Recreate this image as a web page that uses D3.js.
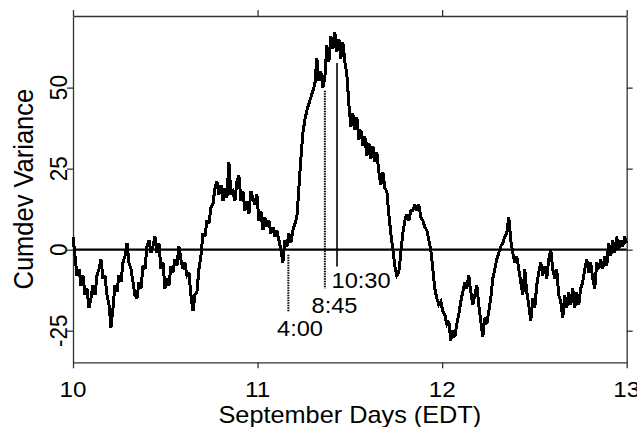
<!DOCTYPE html>
<html>
<head>
<meta charset="utf-8">
<script src="https://cdn.jsdelivr.net/npm/d3@7"></script>
<style>
  html, body { margin: 0; padding: 0; background: #fff; }
  svg { display: block; }
  text { font-family: "Liberation Sans", Arial, Helvetica, sans-serif; fill: #000; }
</style>
</head>
<body>
<div id="chart"></div>
<script>
// ---- data ----
const startDay = 10;
const endDay = 13;
const cumdev = [
  4, -2, -8, -6, -11, -8, -14, -12, -18, -15,
  -11, -14, -8, -6, -3, -9, -8, -14, -17, -24,
  -18, -11, -13, -8, -10, -4, -2, 2, -4, -6,
  -10, -14, -15, -10, -12, -5, -6, 1, 3, -1,
  1, 4, -1, 2, -6, -4, -12, -9, -11, -5,
  -7, -3, -5, 1, -3, -6, -4, -8, -7, -14,
  -19, -14, -13, -6, -2, 5, 4, 9, 8, 13,
  14, 19, 21, 17, 20, 15, 19, 16, 27, 17,
  18, 15, 21, 23, 15, 18, 12, 15, 11, 18,
  16, 14, 17, 9, 12, 6, 10, 7, 9, 5,
  7, 4, 6, 3, 0, -4, 3, 1, 5, 2,
  6, 8, 10, 19, 28, 36, 40, 43, 45, 47,
  49, 51, 59, 52, 55, 50, 53, 63, 58, 66,
  62, 67, 61, 65, 59, 64, 58, 54, 45, 38,
  42, 37, 41, 34, 37, 32, 35, 29, 33, 28,
  32, 27, 30, 24, 20, 24, 19, 18, 11, 5,
  0, -5, -8, -7, -1, 5, 9, 11, 9, 12,
  12, 14, 12, 14, 10, 9, 7, 6, 3, 0,
  -6, -12, -15, -17, -16, -19, -20, -23, -22, -28,
  -25, -27, -23, -20, -16, -13, -10, -12, -8, -13,
  -17, -14, -11, -17, -22, -27, -21, -23, -19, -15,
  -9, -6, -3, -1, 1, 2, 4, 5, 10, 3,
  -1, -4, -2, -6, -10, -14, -6, -13, -17, -22,
  -15, -18, -11, -7, -4, -8, -5, -9, -3, 0,
  -6, -9, -6, -14, -16, -21, -14, -18, -13, -17,
  -12, -18, -13, -17, -12, -10, -6, -3, -7, -4,
  -9, -12, -4, -6, -3, -6, -2, -5, 2, -2,
  3, -1, 4, 0, 3, 1, 4, 2
];
const xTicks = [10, 11, 12, 13];
const yTicks = [-25, 0, 25, 50];
const xDomain = [10, 13];
const yDomain = [-34.75, 72.1];

const eventLabels = ["4:00", "8:45", "10:30"];
const eventDays = [11.1667, 11.3646, 11.4305];
const eventTop = [-1.6, 49, 57.6];
const eventBottom = [-19, -12, -5.2];

const xTitle = "September Days (EDT)";
const yTitle = "Cumdev Variance";

// ---- layout ----
const W = 637, H = 427;
const margin = { left: 73, right: 10.3, top: 16, bottom: 64.7 };
const stretch = 1.1;

const svg = d3.select("#chart").append("svg")
  .attr("width", W).attr("height", H);
svg.append("rect").attr("width", W).attr("height", H).attr("fill", "#fff");

const x = d3.scaleLinear().domain(xDomain).range([margin.left, W - margin.right]);
const y = d3.scaleLinear().domain(yDomain).range([H - margin.bottom, margin.top]);

const step = (endDay - startDay) / (cumdev.length - 1);
const series = cumdev.map((v, i) => ({ day: startDay + i * step, v }));

// axes (frame with outward ticks on all four sides)
const axisColor = "#333";
function styleAxis(g) {
  g.selectAll("path.domain").attr("stroke", axisColor).attr("stroke-width", 1.3);
  g.selectAll(".tick line").attr("stroke", axisColor).attr("stroke-width", 1.3);
  g.selectAll(".tick text").remove();
}
svg.append("g").attr("transform", `translate(0,${y.range()[0]})`)
  .call(d3.axisBottom(x).tickValues(xTicks).tickSizeInner(6).tickSizeOuter(0)).call(styleAxis);
svg.append("g").attr("transform", `translate(0,${y.range()[1]})`)
  .call(d3.axisTop(x).tickValues(xTicks).tickSizeInner(6).tickSizeOuter(0)).call(styleAxis);
svg.append("g").attr("transform", `translate(${x.range()[0]},0)`)
  .call(d3.axisLeft(y).tickValues(yTicks).tickSizeInner(6).tickSizeOuter(0)).call(styleAxis);
svg.append("g").attr("transform", `translate(${x.range()[1]},0)`)
  .call(d3.axisRight(y).tickValues(yTicks).tickSizeInner(6).tickSizeOuter(0)).call(styleAxis);

// tick labels
svg.append("g").selectAll("text").data(xTicks).join("text")
  .attr("transform", d => `translate(${x(d)},396.5) scale(${stretch},1)`)
  .attr("text-anchor", "middle")
  .attr("font-size", 22)
  .text(d => d);
svg.append("g").selectAll("text").data(yTicks).join("text")
  .attr("transform", d => `translate(66.5,${y(d)}) scale(${stretch},1) rotate(-90)`)
  .attr("text-anchor", "middle")
  .attr("font-size", 22.5)
  .text(d => d);

// axis titles
svg.append("text")
  .attr("transform", `translate(${(x.range()[0] + x.range()[1]) / 2},422.5) scale(${stretch},1)`)
  .attr("text-anchor", "middle")
  .attr("font-size", 23)
  .text(xTitle);
svg.append("text")
  .attr("transform", `translate(33,${(y.range()[0] + y.range()[1]) / 2}) scale(${stretch},1) rotate(-90)`)
  .attr("text-anchor", "middle")
  .attr("font-size", 25.5)
  .text(yTitle);

// zero line
svg.append("line")
  .attr("x1", x.range()[0]).attr("x2", x.range()[1])
  .attr("y1", y(0)).attr("y2", y(0))
  .attr("stroke", "#000").attr("stroke-width", 2.2);

// event markers
const events = eventLabels.map((l, i) => ({ label: l, day: eventDays[i], top: eventTop[i], bottom: eventBottom[i] }));
svg.append("g").selectAll("line").data(events).join("line")
  .attr("x1", d => x(d.day)).attr("x2", d => x(d.day))
  .attr("y1", d => y(d.top)).attr("y2", d => y(d.bottom))
  .attr("stroke", "#000")
  .attr("stroke-width", (d, i) => i < 2 ? 2 : 1.6)
  .attr("stroke-dasharray", (d, i) => i < 2 ? "1.5,1" : null);

// data line
const line = d3.line().x(d => x(d.day)).y(d => y(d.v));
svg.append("path").datum(series)
  .attr("d", line)
  .attr("fill", "none")
  .attr("stroke", "#000")
  .attr("stroke-width", 3)
  .attr("stroke-linejoin", "miter")
  .attr("stroke-miterlimit", 3)
  .attr("shape-rendering", "crispEdges");

// event labels
const labelX = [277, 311.5, 331.5];
const labelY = [336, 312.5, 288.3];
svg.append("g").selectAll("text").data(events).join("text")
  .attr("transform", (d, i) => `translate(${labelX[i]},${labelY[i]}) scale(${stretch},1)`)
  .attr("font-size", 21.5)
  .text(d => d.label);
</script>
</body>
</html>
